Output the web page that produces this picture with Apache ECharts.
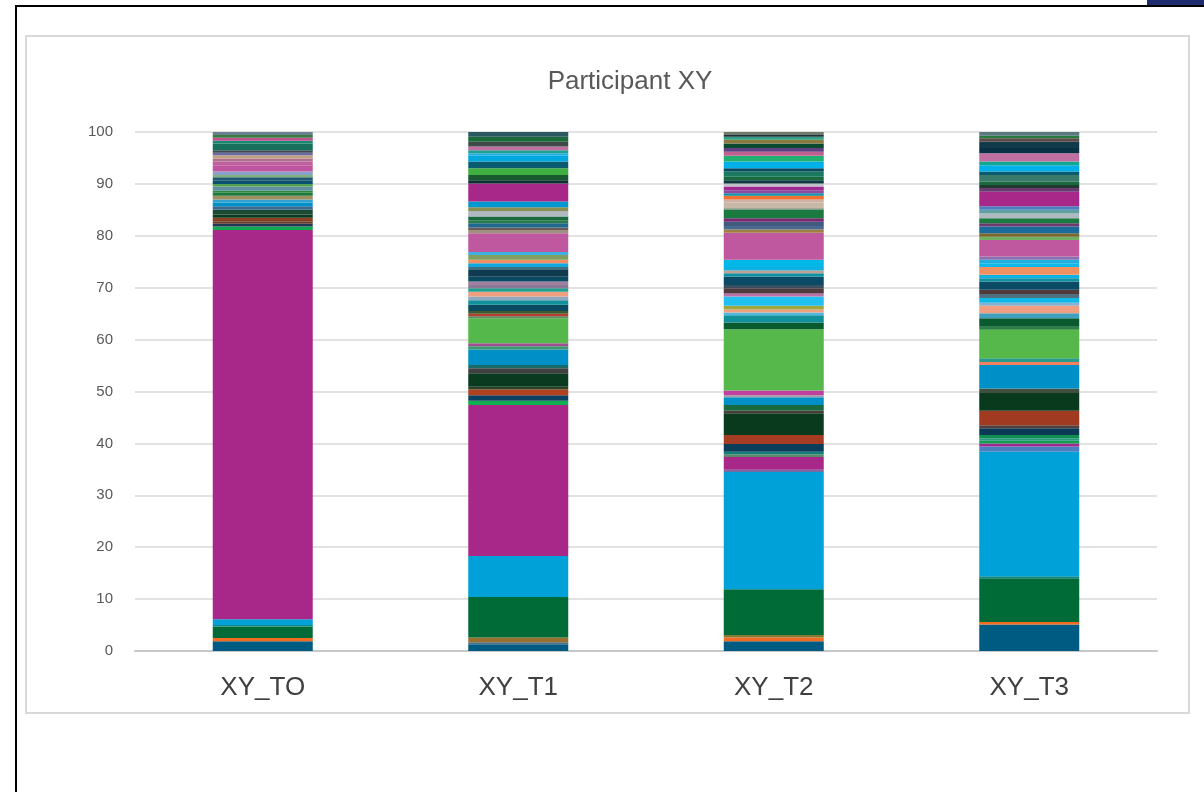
<!DOCTYPE html>
<html>
<head>
<meta charset="utf-8">
<script src="https://cdn.jsdelivr.net/npm/echarts@6/dist/echarts.min.js"></script>
<style>
  body { margin: 0; background: #fff; overflow: hidden; }
  .frame { position: absolute; left: 15px; top: 5px; width: 1400px; height: 1000px; border: 2px solid #000; }
  .corner { position: absolute; left: 1147px; top: 0; width: 57px; height: 5px; background: #1c2c6c; }
  .box { position: absolute; left: 25px; top: 35px; width: 1161px; height: 675px; border: 2px solid #d9d9d9; background: #fff; }
  #chart { position: absolute; left: 0; top: 0; width: 1204px; height: 792px; }
</style>
</head>
<body>
<div class="frame"></div>
<div class="corner"></div>
<div class="box"></div>
<div id="chart"></div>
<script>
// categories
const categories = ['XY_TO', 'XY_T1', 'XY_T2', 'XY_T3']
const yTicks = [0, 10, 20, 30, 40, 50, 60, 70, 80, 90, 100]

// segment heights (%) per bar, bottom to top
const toVals = [1.9, 0.6, 2.2, 0.3, 1.1, 75.0, 0.7, 0.5, 0.5, 0.7, 0.6, 0.9, 0.7, 0.7, 0.6, 0.7, 0.6, 0.4, 0.8, 0.5,
  0.6, 0.7, 0.4, 0.7, 1.2, 0.7, 0.6, 0.6, 0.5, 0.5, 1.3, 0.5, 0.6, 0.5, 0.6]
const t1Vals = [1.3, 0.4, 0.9, 7.8, 7.9, 29.1, 0.8, 1.1, 1.1, 0.5, 2.6, 1.0, 0.6, 3.0, 0.6, 0.6, 4.8, 0.4, 0.5, 0.5,
  1.2, 0.9, 0.7, 0.9, 0.7, 0.6, 0.7, 0.9, 1.3, 0.6, 0.7, 0.7, 0.9, 0.6, 3.6, 0.6, 0.5, 0.8, 0.6, 0.7,
  1.1, 0.7, 1.1, 3.5, 0.6, 1.0, 1.3, 1.3, 1.1, 0.5, 0.6, 0.7, 0.9, 1.0, 0.9]
const t2Vals = [1.9, 0.7, 0.5, 8.8, 22.6, 0.4, 2.5, 0.5, 0.5, 1.5, 1.7, 4.2, 0.5, 1.1, 1.5, 0.4, 0.9, 11.8, 1.3, 1.4,
  0.5, 0.6, 0.7, 1.8, 0.6, 1.0, 0.6, 1.6, 0.7, 0.5, 0.7, 1.4, 5.2, 0.6, 0.7, 0.8, 0.7, 1.6, 0.3, 1.1,
  0.6, 0.7, 0.5, 0.6, 0.7, 0.6, 0.6, 0.7, 1.0, 0.6, 1.3, 1.1, 0.8, 0.7, 0.9, 0.7, 0.6, 0.3, 0.6]
const t3Vals = [5.1, 0.5, 8.4, 0.4, 24.0, 1.0, 0.6, 0.5, 0.5, 0.6, 1.3, 0.6, 2.8, 3.4, 0.9, 4.5, 0.6, 0.7, 5.5, 0.6,
  1.6, 1.0, 1.4, 0.6, 0.9, 0.8, 0.8, 1.6, 0.6, 0.7, 1.5, 0.7, 0.7, 0.6, 3.2, 0.6, 0.7, 1.3, 0.6, 1.0,
  0.9, 0.7, 0.7, 2.8, 0.7, 0.6, 0.6, 1.3, 0.7, 1.2, 0.7, 1.6, 1.0, 1.2, 0.7, 0.5, 0.7]

// segment colours per bar (same order as the heights)
const toColors = ['#005b82', '#f26b21', '#006b37', '#0a8a8a', '#00a0d8', '#a8288a', '#10a850', '#203a55', '#6a4030', '#8a4020',
  '#0a3a20', '#1a4a30', '#3a6a90', '#0090c8', '#30a0d0', '#a09060', '#1e7a3c', '#2e8a40', '#6090a0', '#50a050',
  '#0a5070', '#205a70', '#80b080', '#8aa0c8', '#c0559f', '#c0609f', '#b07090', '#c0a080', '#6a6aa8', '#404a50',
  '#17705c', '#1a8a70', '#c0508f', '#3a7a40', '#6b8090']
const t1Colors = ['#005b82', '#4a7088', '#9a7030', '#006b37', '#00a0d8', '#a8288a', '#10b050', '#0a4060', '#b04020', '#304020',
  '#0a3a20', '#404040', '#1a6a6a', '#0090c8', '#3a9a70', '#a05090', '#55b84a', '#5a8a60', '#b04030', '#405a30',
  '#0a4a60', '#10909a', '#90a8c0', '#f0a080', '#20a090', '#8a7a98', '#a080a0', '#0a4a60', '#103a50', '#407080',
  '#10a8e0', '#f09060', '#80a060', '#40b0e0', '#c058a0', '#a09080', '#6a5a5a', '#206890', '#2a7a4a', '#1a6a40',
  '#b0b8c0', '#8a9050', '#0098d0', '#a8288a', '#0a3030', '#1a5a30', '#40b040', '#0a5a70', '#00a8e0', '#20b0e0',
  '#20a090', '#c070a0', '#404a48', '#1a6a3a', '#2a5a60']
const t2Colors = ['#005b82', '#f26b21', '#8a7a30', '#006b37', '#00a0d8', '#7a6aa0', '#a8288a', '#5a8a6a', '#10807a', '#0a3d5a',
  '#a53d22', '#0a3a1e', '#4a3a38', '#1a6a40', '#0090c8', '#a0a0a8', '#c040a0', '#56b84a', '#0a5a30', '#10909a',
  '#50b8e0', '#f0a080', '#a0a840', '#20c0f0', '#c070a8', '#503a40', '#3a5060', '#0a4a65', '#1090a0', '#c0a090',
  '#10b0e0', '#00b8e8', '#c058a0', '#a08040', '#4a6a90', '#405a80', '#7a2a70', '#1a7a40', '#6a8a70', '#c8b8a8',
  '#d0b0a0', '#f07030', '#1090a8', '#8a4aa0', '#a02890', '#c0c0c8', '#103a40', '#1a6a40', '#1a7a60', '#0a4a60',
  '#00b0e8', '#20b070', '#c06090', '#604080', '#0a4a30', '#8a7a40', '#30a080', '#203040', '#707a6a']
const t3Colors = ['#005b82', '#f26b21', '#006b37', '#0a8a8a', '#00a0d8', '#4a80c0', '#a02890', '#10a050', '#2a9a80', '#109050',
  '#0a3a55', '#504040', '#a03a20', '#0a3a1e', '#405040', '#0090c8', '#f08060', '#2a9a8a', '#56b84a', '#2a8040',
  '#0a5a30', '#40a0c0', '#f0a080', '#8ab0d0', '#10b8e8', '#507080', '#503a3a', '#0a4a65', '#1090a0', '#10b0e0',
  '#f09060', '#10b8e8', '#20b0e0', '#8a70b0', '#c058a0', '#70b060', '#7a6a30', '#1a6a9a', '#6a3a70', '#1a7a40',
  '#b0b8c0', '#60a0a0', '#4a80c0', '#a8288a', '#6a3a70', '#203a30', '#1a6a40', '#3a7a6a', '#0a5a70', '#00b0e8',
  '#10a890', '#c070a0', '#0a3045', '#103a4a', '#5a4a48', '#2a7a40', '#5a7a80']

const barVals = [toVals, t1Vals, t2Vals, t3Vals]
const barColors = [toColors, t1Colors, t2Colors, t3Colors]

const chart = echarts.init(document.getElementById('chart'))

// one stacked series per segment level
const maxLen = Math.max(...barVals.map(v => v.length))
const series = []
for (let i = 0; i < maxLen; i++) {
  series.push({
    name: 'S' + (i + 1),
    type: 'bar',
    stack: 'total',
    barWidth: 100,
    silent: true,
    data: barVals.map((vals, k) => vals[i] === undefined ? '-' : {
      value: vals[i],
      itemStyle: { color: barColors[k][i] }
    })
  })
}

const option = {
  animation: false,
  title: {
    text: 'Participant XY',
    left: 625,
    top: 64,
    textAlign: 'center',
    textStyle: { fontFamily: 'Liberation Sans', fontSize: 26, fontWeight: 'normal', color: '#595959' }
  },
  grid: { left: 135, right: 47, top: 132, bottom: 141 },
  xAxis: {
    type: 'category',
    data: categories,
    axisLine: { lineStyle: { color: '#c8c8c8', width: 2 } },
    axisTick: { show: false },
    axisLabel: { margin: 24, fontFamily: 'Liberation Sans', fontSize: 26, color: '#404040' }
  },
  yAxis: {
    type: 'value',
    min: yTicks[0],
    max: yTicks[yTicks.length - 1],
    interval: yTicks[1] - yTicks[0],
    axisLine: { show: false },
    axisTick: { show: false },
    axisLabel: { margin: 22, fontFamily: 'Liberation Sans', fontSize: 15, color: '#595959' },
    splitLine: { lineStyle: { color: '#e2e2e2', width: 2 } }
  },
  series: series
}

chart.setOption(option)
</script>
</body>
</html>
